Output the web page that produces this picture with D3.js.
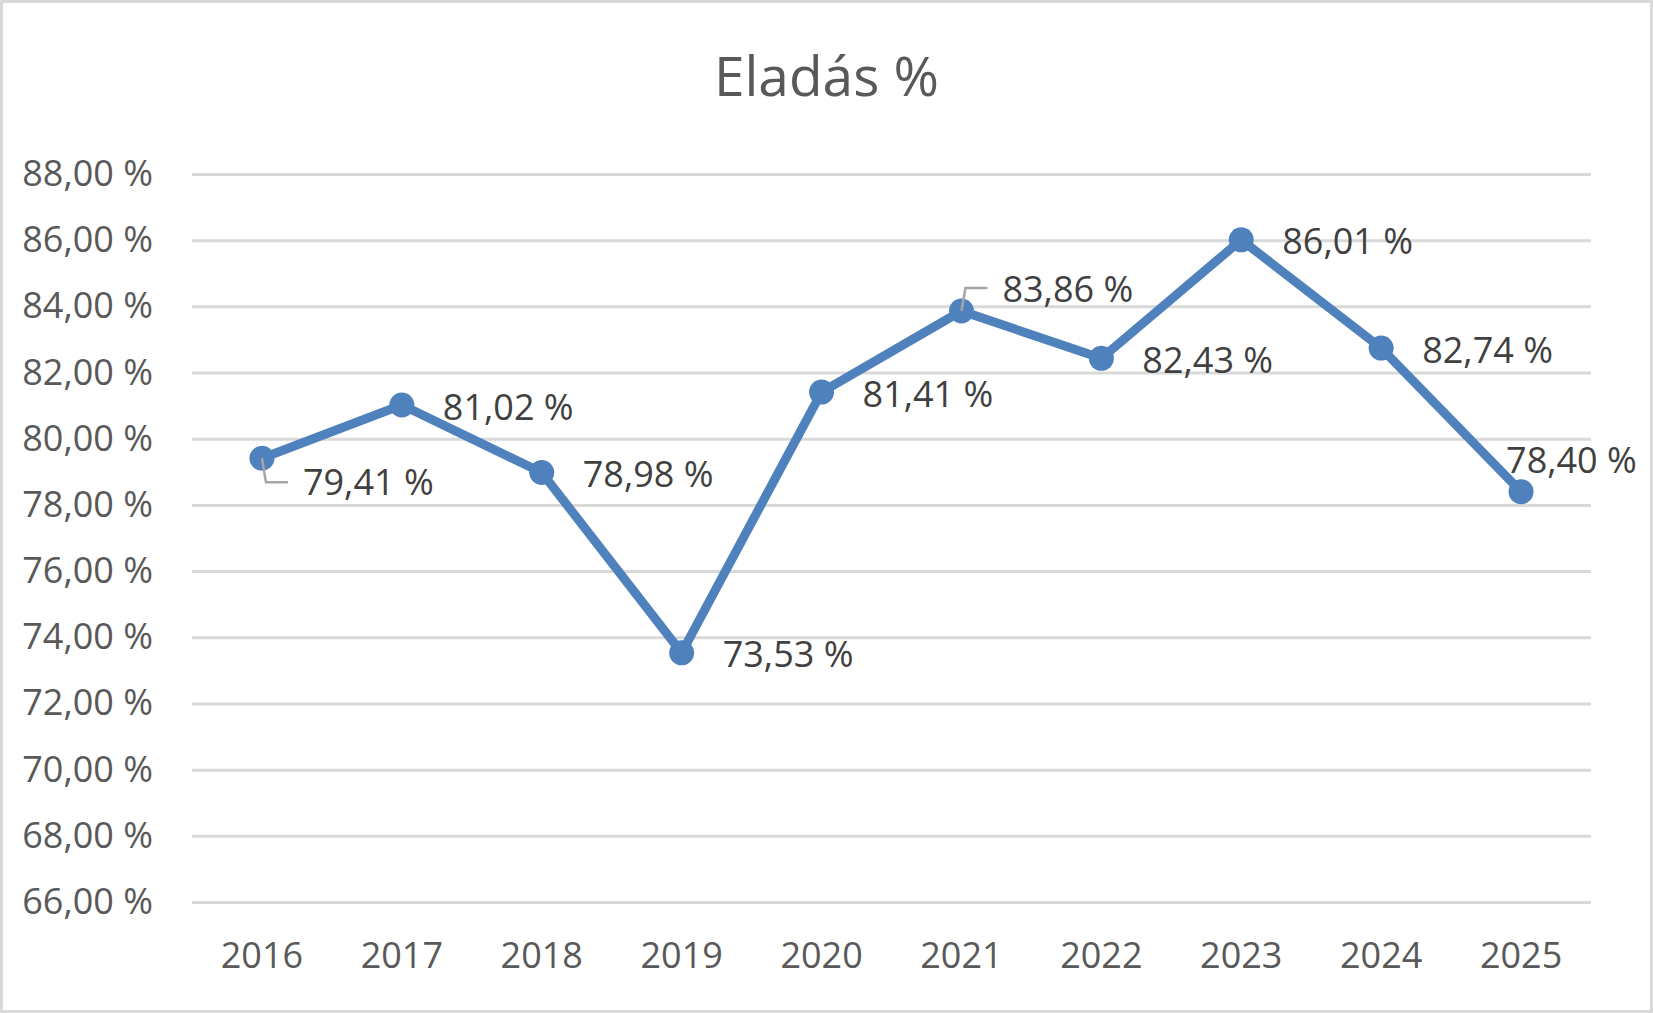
<!DOCTYPE html>
<html>
<head>
<meta charset="utf-8">
<script src="https://cdn.jsdelivr.net/npm/d3@7"></script>
<style>
  html, body { margin: 0; padding: 0; background: #fff; }
  svg { display: block; }
  text { font-family: "Open Sans", "Noto Sans", sans-serif; }
</style>
</head>
<body>
<svg id="chart" width="1653" height="1013"></svg>
<script>
// ---- data ----
const title = "Eladás %";
const years = ["2016", "2017", "2018", "2019", "2020", "2021", "2022", "2023", "2024", "2025"];
const salesPct = [79.41, 81.02, 78.98, 73.53, 81.41, 83.86, 82.43, 86.01, 82.74, 78.40];
const yTicks = [66, 68, 70, 72, 74, 76, 78, 80, 82, 84, 86, 88];

// ---- layout ----
const W = 1653, H = 1013;
const plot = { left: 192, right: 1591, top: 174, bottom: 902 };
const labelPlacement = {           // label nudges relative to the point (px)
  "2016": { dx: 41, dy: 24, leader: "down" },
  "2021": { dx: 41, dy: -22, leader: "up" },
  "2025": { dx: -15, dy: -31 }
};
const fmt = v => d3.format(".2f")(v).replace(".", ",") + " %";
const FS = 36;

const svg = d3.select("#chart");

// outer border
svg.append("rect")
  .attr("x", 1.5).attr("y", 1.5)
  .attr("width", W - 3).attr("height", H - 3)
  .attr("fill", "#fff").attr("stroke", "#d9d9d9").attr("stroke-width", 3);

const x = d3.scaleBand().domain(years).range([plot.left, plot.right]);
const y = d3.scaleLinear().domain([66, 88]).range([plot.bottom, plot.top]);
const cx = d => x(d) + x.bandwidth() / 2;

// title
svg.append("text")
  .attr("x", W / 2).attr("y", 96)
  .attr("text-anchor", "middle")
  .attr("font-size", 55)
  .attr("fill", "#595959")
  .text(title);

// gridlines + y axis labels via d3 axis
const yAxis = d3.axisLeft(y)
  .tickValues(yTicks)
  .tickSize(-(plot.right - plot.left))
  .tickPadding(39)
  .tickFormat(fmt);
const gy = svg.append("g").attr("transform", `translate(${plot.left},0)`).call(yAxis);
gy.select(".domain").remove();
gy.selectAll(".tick line").attr("stroke", "#d9d9d9").attr("stroke-width", 3);
gy.selectAll(".tick text")
  .attr("fill", "#595959").attr("font-size", FS)
  .attr("font-family", "'Open Sans', 'Noto Sans', sans-serif");

// x axis labels
const xAxis = d3.axisBottom(x).tickSize(0).tickPadding(0);
const gx = svg.append("g").attr("transform", `translate(0,${plot.bottom})`).call(xAxis);
gx.select(".domain").remove();
gx.selectAll(".tick text")
  .attr("fill", "#595959").attr("font-size", FS)
  .attr("font-family", "'Open Sans', 'Noto Sans', sans-serif")
  .attr("dy", null)
  .attr("y", 66);

const pts = years.map((yr, i) => ({ yr, v: salesPct[i] }));

// line
svg.append("path")
  .datum(pts)
  .attr("fill", "none")
  .attr("stroke", "#4f81bd")
  .attr("stroke-width", 9)
  .attr("stroke-linejoin", "round")
  .attr("d", d3.line().x(d => cx(d.yr)).y(d => y(d.v)));

// markers
svg.append("g").selectAll("circle")
  .data(pts).join("circle")
  .attr("cx", d => cx(d.yr)).attr("cy", d => y(d.v))
  .attr("r", 12.5)
  .attr("fill", "#4f81bd");

// leader lines
pts.forEach(d => {
  const p = labelPlacement[d.yr];
  if (!p || !p.leader) return;
  const px = cx(d.yr), py = y(d.v);
  const ly = py + p.dy + (p.leader === "down" ? 0 : -1);
  svg.append("polyline")
    .attr("points", `${px},${py} ${px + 4},${ly} ${px + 26},${ly}`)
    .attr("fill", "none")
    .attr("stroke", "#a6a6a6")
    .attr("stroke-width", 2.5);
});

// data labels
svg.append("g").selectAll("text")
  .data(pts).join("text")
  .attr("x", d => cx(d.yr) + (labelPlacement[d.yr] ? labelPlacement[d.yr].dx : 41))
  .attr("y", d => y(d.v) + (labelPlacement[d.yr] ? labelPlacement[d.yr].dy : 2))
  .attr("dy", "0.35em")
  .attr("font-size", FS)
  .attr("fill", "#404040")
  .text(d => fmt(d.v));
</script>
</body>
</html>
